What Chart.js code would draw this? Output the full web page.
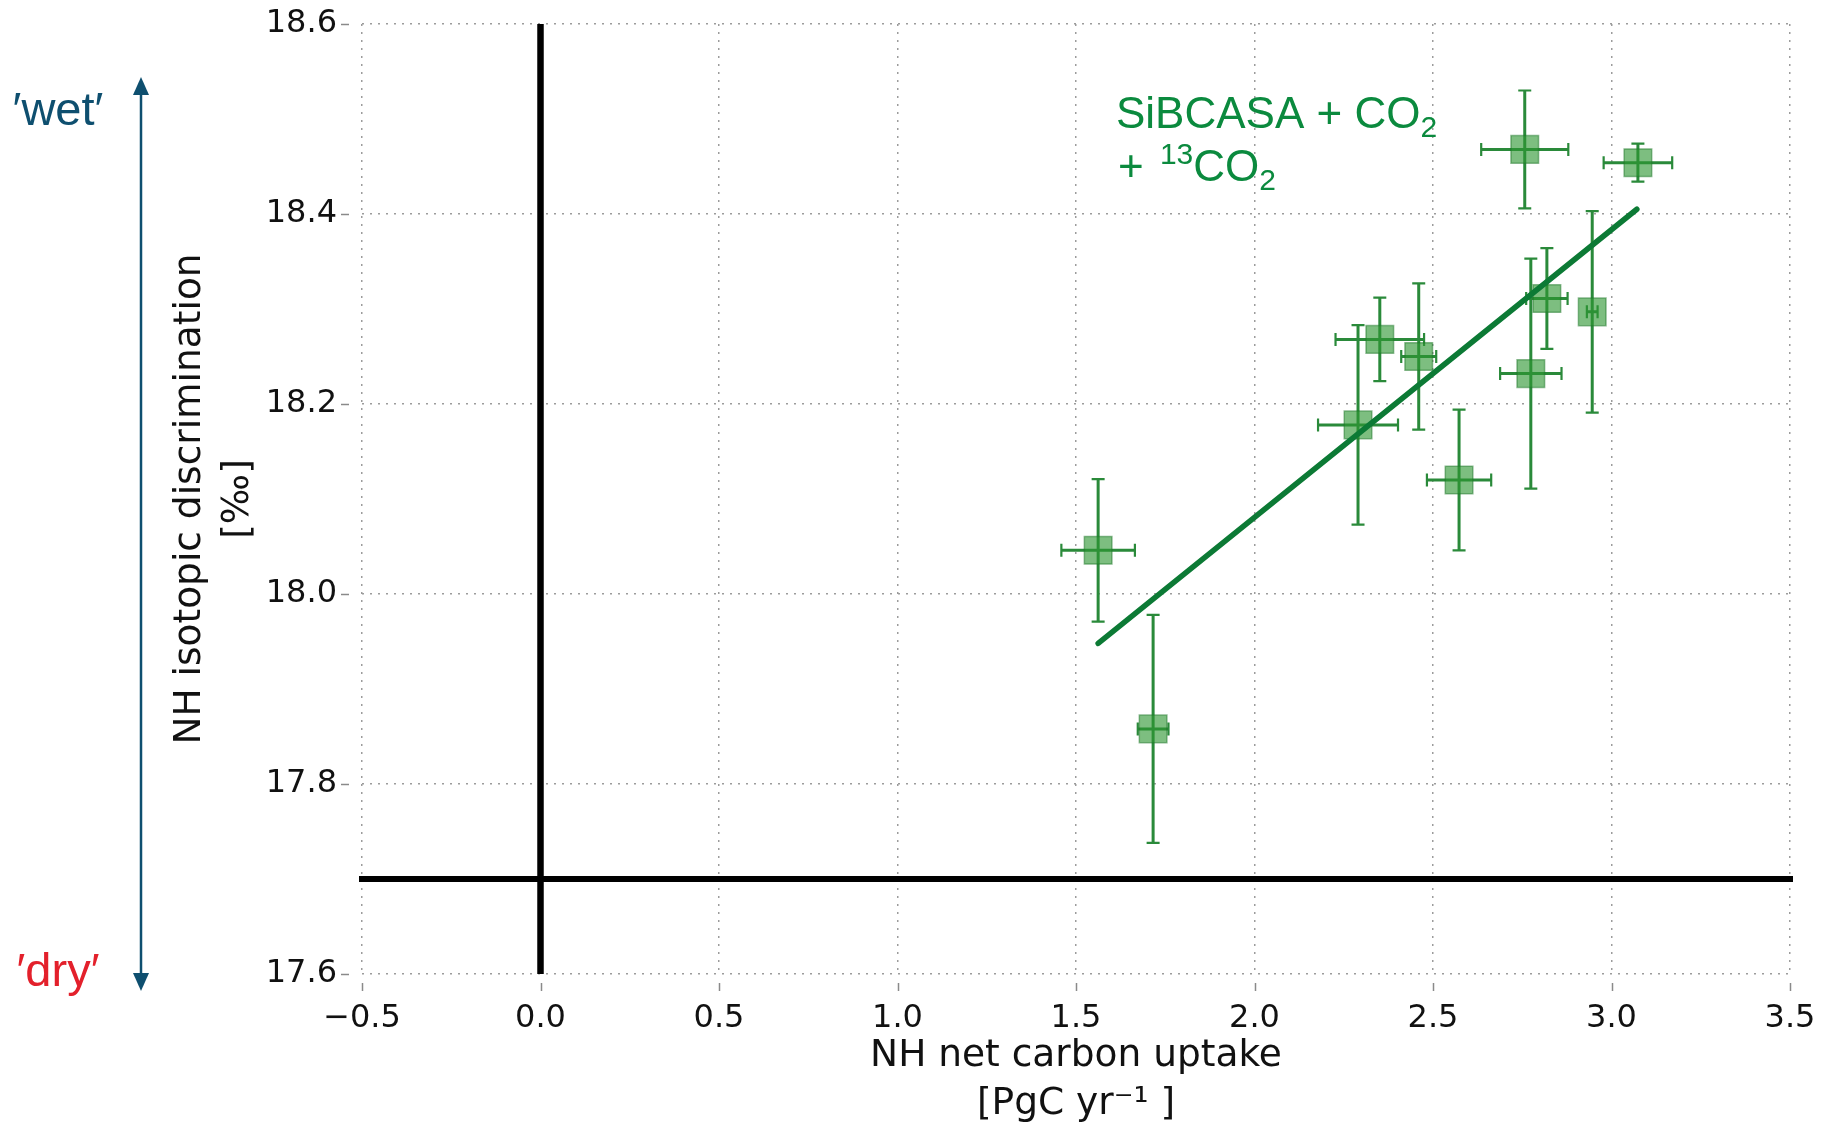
<!DOCTYPE html>
<html><head><meta charset="utf-8">
<script src="https://cdn.jsdelivr.net/npm/chart.js@4/dist/chart.umd.min.js"></script>
<style>html,body{margin:0;padding:0;background:#fff;}canvas{display:block;}</style>
</head><body>
<canvas id="c" width="1823" height="1128"></canvas>
<script>
// ---- data ----
const xValues = [1.562, 1.716, 2.290, 2.351, 2.460, 2.573, 2.757, 2.774, 2.819, 2.946, 3.074];
const yValues = [18.046, 17.858, 18.178, 18.268, 18.250, 18.120, 18.468, 18.232, 18.311, 18.297, 18.454];
const xErrors = [0.103, 0.043, 0.112, 0.124, 0.049, 0.090, 0.122, 0.086, 0.058, 0.015, 0.096];
const yErrors = [0.075, 0.120, 0.105, 0.044, 0.077, 0.074, 0.062, 0.121, 0.053, 0.106, 0.020];
const fitX = [1.562, 3.071];
const fitY = [17.948, 18.405];
const xTicks = [-0.5, 0, 0.5, 1.0, 1.5, 2.0, 2.5, 3.0, 3.5];
const yTicks = [17.6, 17.8, 18.0, 18.2, 18.4, 18.6];
const zeroLineX = [0, 0];
const zeroLineY = [17.6, 18.6];
const baseLineX = [-0.5, 3.5];
const baseLineY = [17.7, 17.7];
const xTitle = ['NH net carbon uptake', '[PgC yr\u207B\u00B9 ]'];
const yTitle = ['NH isotopic discrimination', '[\u2030]'];

const toPts = (xs, ys) => xs.map((v, i) => ({x: v, y: ys[i]}));

const errorBars = {
  id: 'errorBars',
  beforeDatasetsDraw(chart) {
    const {ctx, scales: {x, y}} = chart;
    ctx.save();
    ctx.strokeStyle = '#2a8a3a';
    const cap = 6.5;
    xValues.forEach((xv, i) => {
      const yv = yValues[i];
      const px = x.getPixelForValue(xv), py = y.getPixelForValue(yv);
      const x0 = x.getPixelForValue(xv - xErrors[i]), x1 = x.getPixelForValue(xv + xErrors[i]);
      const y0 = y.getPixelForValue(yv - yErrors[i]), y1 = y.getPixelForValue(yv + yErrors[i]);
      ctx.lineWidth = 3;
      ctx.beginPath();
      ctx.moveTo(x0, py); ctx.lineTo(x1, py);
      ctx.moveTo(px, y0); ctx.lineTo(px, y1);
      ctx.stroke();
      ctx.lineWidth = 2.2;
      ctx.beginPath();
      ctx.moveTo(x0, py - cap); ctx.lineTo(x0, py + cap);
      ctx.moveTo(x1, py - cap); ctx.lineTo(x1, py + cap);
      ctx.moveTo(px - cap, y0); ctx.lineTo(px + cap, y0);
      ctx.moveTo(px - cap, y1); ctx.lineTo(px + cap, y1);
      ctx.stroke();
    });
    ctx.restore();
  }
};

const tickMarks = {
  id: 'tickMarks',
  afterDraw(chart) {
    const {ctx, scales: {x, y}, chartArea} = chart;
    ctx.save();
    ctx.strokeStyle = '#8a8a8a';
    ctx.lineWidth = 1.5;
    ctx.beginPath();
    y.ticks.forEach(t => {
      const py = Math.round(y.getPixelForValue(t.value)) + 0.5;
      ctx.moveTo(chartArea.left - 21, py); ctx.lineTo(chartArea.left - 13, py);
    });
    x.ticks.forEach(t => {
      const px = Math.round(x.getPixelForValue(t.value)) + 0.5;
      ctx.moveTo(px, chartArea.bottom + 9); ctx.lineTo(px, chartArea.bottom + 17);
    });
    ctx.stroke();
    ctx.restore();
  }
};

const annotations = {
  id: 'annotations',
  afterDraw(chart) {
    const {ctx} = chart;
    ctx.save();
    // wet / dry arrow
    const ax = 141, top = 77, bot = 991;
    ctx.strokeStyle = '#0e4f6f';
    ctx.fillStyle = '#0e4f6f';
    ctx.lineWidth = 2.5;
    ctx.beginPath();
    ctx.moveTo(ax, top + 10); ctx.lineTo(ax, bot - 10);
    ctx.stroke();
    ctx.beginPath();
    ctx.moveTo(ax, top); ctx.lineTo(ax - 8, top + 18); ctx.lineTo(ax + 8, top + 18); ctx.closePath();
    ctx.fill();
    ctx.beginPath();
    ctx.moveTo(ax, bot); ctx.lineTo(ax - 8, bot - 18); ctx.lineTo(ax + 8, bot - 18); ctx.closePath();
    ctx.fill();
    ctx.font = '47px "Liberation Sans", Arial, sans-serif';
    ctx.textAlign = 'center';
    ctx.textBaseline = 'alphabetic';
    ctx.fillStyle = '#0e4f6f';
    ctx.fillText('\u2032wet\u2032', 58, 125);
    ctx.fillStyle = '#e3202b';
    ctx.fillText('\u2032dry\u2032', 58, 986);

    // model label
    ctx.fillStyle = '#0b8a3e';
    ctx.textAlign = 'left';
    const big = '44px "Liberation Sans", Arial, sans-serif';
    const small = '30px "Liberation Sans", Arial, sans-serif';
    let lx = 1116, ly = 128;
    ctx.font = big;
    const t1 = 'SiBCASA + CO';
    ctx.fillText(t1, lx, ly);
    let w = ctx.measureText(t1).width;
    ctx.font = small;
    ctx.fillText('2', lx + w, ly + 9);
    ly = 181;
    ctx.font = big;
    ctx.fillText('+ ', lx + 2, ly);
    w = ctx.measureText('+ ').width;
    ctx.font = small;
    ctx.fillText('13', lx + 6 + w, ly - 17);
    const w13 = ctx.measureText('13').width;
    ctx.font = big;
    ctx.fillText('CO', lx + 6 + w + w13, ly);
    const wco = ctx.measureText('CO').width;
    ctx.font = small;
    ctx.fillText('2', lx + 6 + w + w13 + wco, ly + 9);
    ctx.restore();
  }
};

const fmt = v => {
  const s = Math.abs(v).toFixed(1);
  return v < -1e-9 ? '\u2212' + s : s;
};

new Chart(document.getElementById('c'), {
  type: 'scatter',
  data: {
    datasets: [
      {
        type: 'line', data: toPts(zeroLineX, zeroLineY), borderColor: '#000', borderWidth: 6.5,
        pointRadius: 0, clip: false, order: 3, borderCapStyle: 'butt'
      },
      {
        type: 'line', data: toPts(baseLineX, baseLineY), borderColor: '#000', borderWidth: 6,
        pointRadius: 0, clip: false, order: 3, borderCapStyle: 'square'
      },
      {
        type: 'scatter', data: toPts(xValues, yValues), pointStyle: 'rect', pointRadius: 19.5,
        backgroundColor: 'rgba(45,150,50,0.62)', borderColor: 'rgba(30,120,40,0.5)', borderWidth: 1.5,
        order: 2
      },
      {
        type: 'line', data: toPts(fitX, fitY), borderColor: '#0c7a35', borderWidth: 5.5,
        pointRadius: 0, order: 1, borderCapStyle: 'round'
      }
    ]
  },
  options: {
    responsive: false,
    animation: false,
    devicePixelRatio: 1,
    layout: {autoPadding: false, padding: {left: 0, right: 33, top: 24, bottom: 0}},
    plugins: {legend: {display: false}, tooltip: {enabled: false}},
    scales: {
      x: {
        type: 'linear', min: -0.5, max: 3.5,
        afterBuildTicks: s => { s.ticks = xTicks.map(v => ({value: v})); },
        afterFit: s => { s.height = 154; },
        border: {display: false, dash: [2, 6]},
        grid: {color: '#9c9c9c', lineWidth: 1.5, drawTicks: true, tickLength: 25, tickColor: 'rgba(0,0,0,0)'},
        ticks: {callback: v => fmt(v), color: '#111', padding: 0, maxRotation: 0,
          font: {family: '"DejaVu Sans", sans-serif', size: 32}},
        title: {display: true, text: xTitle, color: '#111', padding: {top: 0, bottom: 0},
          font: {family: '"DejaVu Sans", sans-serif', size: 37.5, lineHeight: 1.28}}
      },
      y: {
        type: 'linear', min: 17.6, max: 18.6,
        afterBuildTicks: s => { s.ticks = yTicks.map(v => ({value: v})); },
        afterFit: s => { s.width = 362; },
        border: {display: false, dash: [2, 6]},
        grid: {color: '#9c9c9c', lineWidth: 1.5, drawTicks: true, tickLength: 25, tickColor: 'rgba(0,0,0,0)'},
        ticks: {callback: v => v.toFixed(1), color: '#111', padding: 0,
          font: {family: '"DejaVu Sans", sans-serif', size: 32}},
        title: {display: true, text: yTitle, color: '#111', padding: {top: 166, bottom: 0},
          font: {family: '"DejaVu Sans", sans-serif', size: 37.5, lineHeight: 1.28}}
      }
    }
  },
  plugins: [errorBars, tickMarks, annotations]
});
</script>
</body></html>
